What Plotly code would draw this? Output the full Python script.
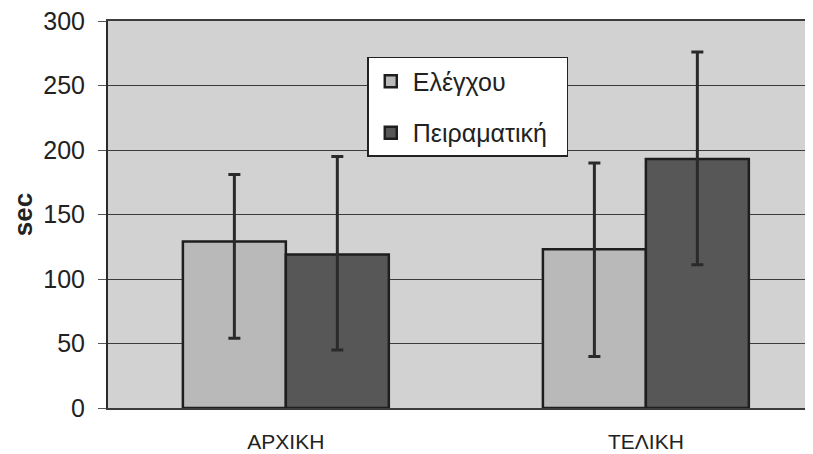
import plotly.graph_objects as go

categories = ["ΑΡΧΙΚΗ", "ΤΕΛΙΚΗ"]
series_names = ["Ελέγχου", "Πειραματική"]
control_vals = [129, 123]
control_err_plus = [52, 67]
control_err_minus = [75, 83]
exper_vals = [119, 193]
exper_err_plus = [76, 83]
exper_err_minus = [74, 82]
y_ticks = [0, 50, 100, 150, 200, 250, 300]

pad = "\u00a0\u00a0"

fig = go.Figure()
fig.add_trace(go.Bar(
    x=[0, 1], y=control_vals, name=series_names[0] + pad, legendgroup="a",
    marker=dict(color="#b9b9b9", line=dict(color="#1e1e1e", width=2.5)),
    error_y=dict(type="data", symmetric=False, array=control_err_plus,
                 arrayminus=control_err_minus, color="#2a2a2a", thickness=3, width=6),
))
fig.add_trace(go.Bar(
    x=[0, 1], y=exper_vals, name=series_names[1] + pad, legendgroup="b",
    marker=dict(color="#575757", line=dict(color="#1e1e1e", width=2.5)),
    error_y=dict(type="data", symmetric=False, array=exper_err_plus,
                 arrayminus=exper_err_minus, color="#2a2a2a", thickness=3, width=6),
))

fig.update_layout(
    width=797, height=446,
    margin=dict(l=100, r=0, t=13, b=46),
    paper_bgcolor="white", plot_bgcolor="#d2d2d2",
    barmode="group", bargap=0.428, bargroupgap=0,
    font=dict(family="Liberation Sans, Arial, sans-serif", color="#222"),
    showlegend=True,
    legend=dict(x=0.372, y=0.907, xanchor="left", yanchor="top",
                bgcolor="white", bordercolor="#222", borderwidth=1.5,
                font=dict(size=25, color="#222"), tracegroupgap=16,
                itemwidth=34),
    xaxis=dict(tickmode="array", tickvals=[0, 1], ticktext=categories,
               range=[-0.494, 1.442], showgrid=False, zeroline=False,
               tickfont=dict(size=21), ticks="",
               showline=True, mirror=True, linecolor="#3c3c3c", linewidth=1.5,
               automargin=False, ticklabelstandoff=14),
    yaxis=dict(range=[0, 300], tickvals=y_ticks, showgrid=True,
               gridcolor="#3c3c3c", gridwidth=1, zeroline=False,
               showline=True, linecolor="#2a2a2a", linewidth=2,
               ticks="outside", ticklen=8, tickcolor="#555",
               tickfont=dict(size=25), automargin=False,
               ticklabelstandoff=8, ticklabeloverflow="allow",
               title=dict(text="<b>sec</b>", font=dict(size=26), standoff=25)),
)
fig.write_html("out.html")
